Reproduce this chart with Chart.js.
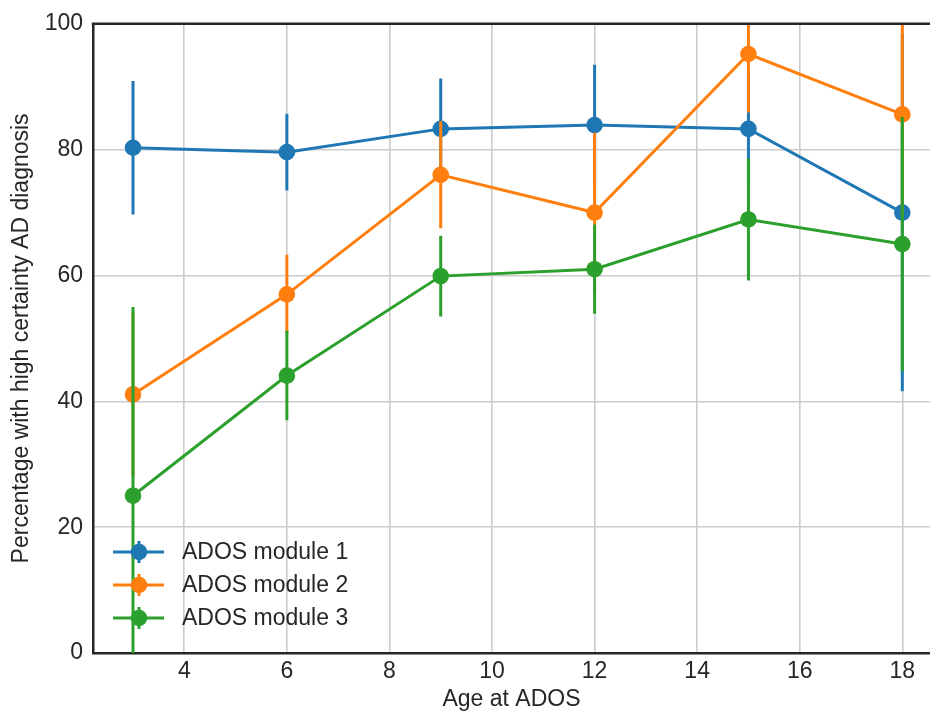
<!DOCTYPE html>
<html lang="en">
<head>
<meta charset="UTF-8">
<title>ADOS module diagnosis by age</title>
<script src="https://cdn.jsdelivr.net/npm/chart.js"></script>
<style>
  html, body { margin: 0; padding: 0; background: #fff; overflow: hidden; }
  #wrap { width: 930px; height: 713px; }
</style>
</head>
<body>
<div id="wrap"><canvas id="chart"></canvas></div>
<script>
    // ages at ADOS (x values)
    const ages = [3, 6, 9, 12, 15, 18];
    const xTicks = [4, 6, 8, 10, 12, 14, 16, 18];
    const yTicks = [0, 20, 40, 60, 80, 100];

    const seriesNames = ["ADOS module 1", "ADOS module 2", "ADOS module 3"];
    const module1 = [80.3, 79.6, 83.3, 83.9, 83.3, 70.0];
    const module2 = [41.1, 57.0, 76.0, 70.0, 95.2, 85.6];
    const module3 = [25.0, 44.1, 59.9, 61.0, 68.9, 65.0];

    // symmetric error bar half-lengths
    const module1Err = [10.6, 6.1, 8.0, 9.6, 9.0, 28.4];
    const module2Err = [13.0, 6.3, 8.5, 12.7, 9.3, 16.0];
    const module3Err = [30.0, 7.1, 6.4, 7.1, 9.7, 20.2];

    const colors = ['#1f77b4', '#ff7f0e', '#2ca02c'];
    const textColor = '#262626';
    const fontFamily = '"Liberation Sans", Arial, sans-serif';
    const fontSize = 23;

    const values = [module1, module2, module3];
    const errors = [module1Err, module2Err, module3Err];

    const datasets = values.map((vals, i) => ({
        label: seriesNames[i],
        data: ages.map((a, j) => ({ x: a, y: vals[j] })),
        borderColor: colors[i],
        backgroundColor: colors[i],
        borderWidth: 3,
        pointRadius: 8.3,
        pointHoverRadius: 8.3,
        pointBorderWidth: 0,
        pointBackgroundColor: colors[i],
        tension: 0,
        order: 3 - i,
        errors: errors[i]
    }));

    // vertical error bars, drawn just before each dataset's line and markers
    const errorBars = {
        id: 'errorBars',
        beforeDatasetDraw(chart, args) {
            const ds = chart.data.datasets[args.index];
            const xs = chart.scales.x, ys = chart.scales.y;
            const area = chart.chartArea;
            const ctx = chart.ctx;
            ctx.save();
            ctx.beginPath();
            ctx.rect(area.left, area.top, area.right - area.left, area.bottom - area.top);
            ctx.clip();
            ctx.strokeStyle = ds.borderColor;
            ctx.lineWidth = 3;
            ds.data.forEach((p, j) => {
                const e = ds.errors[j];
                const px = xs.getPixelForValue(p.x);
                ctx.beginPath();
                ctx.moveTo(px, ys.getPixelForValue(p.y - e));
                ctx.lineTo(px, ys.getPixelForValue(p.y + e));
                ctx.stroke();
            });
            ctx.restore();
        }
    };

    // top frame line and legend inside the plot (lower left)
    const frameAndLegend = {
        id: 'frameAndLegend',
        afterDraw(chart) {
            const ctx = chart.ctx;
            const area = chart.chartArea;
            ctx.save();
            ctx.strokeStyle = textColor;
            ctx.lineWidth = 2.5;
            ctx.beginPath();
            ctx.moveTo(area.left - 1.25, area.top);
            ctx.lineTo(area.right, area.top);
            ctx.stroke();

            const x0 = area.left + 20, x1 = area.left + 71, mx = area.left + 46;
            const rowY = [552, 585, 618];
            ctx.font = fontSize + 'px ' + fontFamily;
            ctx.textBaseline = 'middle';
            ctx.textAlign = 'left';
            chart.data.datasets.forEach((ds, i) => {
                const y = rowY[i];
                ctx.strokeStyle = ds.borderColor;
                ctx.fillStyle = ds.borderColor;
                ctx.lineWidth = 3;
                ctx.beginPath();
                ctx.moveTo(x0, y); ctx.lineTo(x1, y);
                ctx.moveTo(mx, y - 11); ctx.lineTo(mx, y + 11);
                ctx.stroke();
                ctx.beginPath();
                ctx.arc(mx, y, 8.3, 0, Math.PI * 2);
                ctx.fill();
                ctx.fillStyle = textColor;
                ctx.fillText(ds.label, area.left + 89, y + 1);
            });
            ctx.restore();
        }
    };

    new Chart(document.getElementById('chart'), {
        type: 'line',
        data: { datasets: datasets },
        plugins: [errorBars, frameAndLegend],
        options: {
            responsive: true,
            maintainAspectRatio: false,
            animation: false,
            layout: { padding: { top: 20, right: 0, left: 0, bottom: 0 }, autoPadding: false },
            plugins: {
                legend: { display: false },
                tooltip: { enabled: false }
            },
            scales: {
                x: {
                    type: 'linear',
                    min: 2.22,
                    max: 18.54,
                    afterFit: s => { s.height = 60; },
                    afterBuildTicks: s => { s.ticks = xTicks.map(v => ({ value: v })); },
                    grid: { color: '#cccccc', lineWidth: 1.6, drawTicks: false },
                    border: { color: textColor, width: 2.5 },
                    ticks: { color: textColor, padding: 5, font: { size: fontSize, family: fontFamily } },
                    title: {
                        display: true,
                        text: 'Age at ADOS',
                        color: textColor,
                        padding: { top: 0, bottom: 0 },
                        font: { size: fontSize, family: fontFamily }
                    }
                },
                y: {
                    min: 0,
                    max: 100,
                    afterFit: s => { s.width = 93; },
                    afterBuildTicks: s => { s.ticks = yTicks.map(v => ({ value: v })); },
                    grid: { color: '#cccccc', lineWidth: 1.6, drawTicks: false },
                    border: { color: textColor, width: 2.5 },
                    ticks: { color: textColor, padding: 10, font: { size: fontSize, family: fontFamily } },
                    title: {
                        display: true,
                        text: 'Percentage with high certainty AD diagnosis',
                        color: textColor,
                        padding: { top: 8, bottom: 0 },
                        font: { size: fontSize, family: fontFamily }
                    }
                }
            }
        }
    });
</script>
</body>
</html>
